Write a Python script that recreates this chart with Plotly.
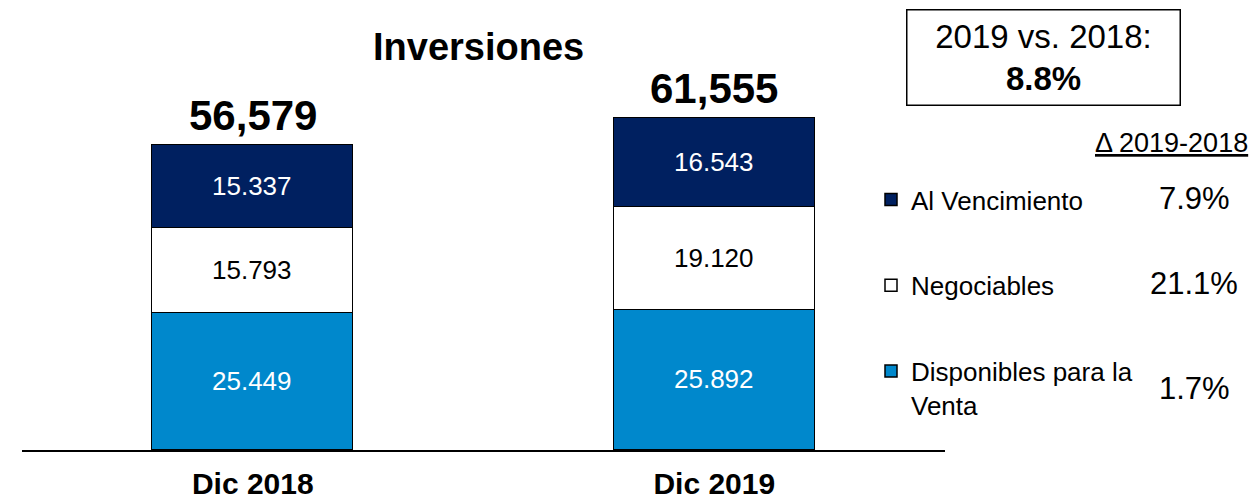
import plotly.graph_objects as go

categories = ["Dic 2018", "Dic 2019"]
disponibles = [25.449, 25.892]
negociables = [15.793, 19.120]
vencimiento = [15.337, 16.543]
series_names = ["Disponibles para la<br>Venta", "Negociables", "Al Vencimiento"]
series_colors = ["#0088CC", "#FFFFFF", "#002060"]
text_colors = ["#FFFFFF", "#000000", "#FFFFFF"]
legend_ranks = [3, 2, 1]
deltas = ["1.7%", "21.1%", "7.9%"]
growth_label = "8.8%"

FONT = "Liberation Sans, Arial, sans-serif"
series_values = [disponibles, negociables, vencimiento]
totals = [sum(v) for v in zip(*series_values)]

L, R, T, B = 22, 945, 20, 450
PW, PH = R - L, B - T


def px(x):
    return (x - L) / PW


def py(y):
    return (B - y) / PH


fig = go.Figure()
for i, (name, vals, col, tcol) in enumerate(zip(series_names, series_values, series_colors, text_colors)):
    fig.add_trace(go.Bar(
        x=categories, y=vals, name=name,
        marker=dict(color=col, line=dict(color="#000000", width=1.5)),
        width=0.436,
        text=[f"{v:.3f}" for v in vals], textposition="inside",
        insidetextanchor="middle", textangle=0,
        textfont=dict(family=FONT, size=26, color=tcol),
        legendgroup=f"g{i}", legendrank=legend_ranks[i],
    ))

for c, t in zip(categories, totals):
    fig.add_annotation(x=c, y=t, text=f"<b>{round(t*1000):,}</b>", showarrow=False,
                       xanchor="center", yanchor="middle", yshift=30,
                       font=dict(family=FONT, size=42, color="#000000"))

fig.add_annotation(x=px(478), y=py(47), xref="paper", yref="paper", text="<b>Inversiones</b>",
                   xanchor="center", yanchor="middle",
                   showarrow=False, font=dict(family=FONT, size=38, color="#000000"))

fig.update_layout(
    width=1253, height=503,
    margin=dict(l=L, r=1253 - R, t=T, b=503 - B, autoexpand=False),
    paper_bgcolor="#FFFFFF", plot_bgcolor="#FFFFFF",
    barmode="stack", bargap=0,
    font=dict(family=FONT, color="#000000"),
    xaxis=dict(range=[-0.5, 1.5], showline=True, linecolor="#000000", linewidth=1.5,
               ticks="", tickfont=dict(family=FONT, size=30, color="#000000"),
               tickprefix="<b>", ticksuffix="</b>", ticklabelstandoff=6, fixedrange=True),
    yaxis=dict(range=[0, PH / 5.39], visible=False, showgrid=False, zeroline=False),
    legend=dict(x=px(871), xanchor="left", y=py(176), yanchor="top",
                traceorder="grouped", tracegroupgap=49, valign="top",
                font=dict(family=FONT, size=26, color="#000000"), bgcolor="rgba(0,0,0,0)"),
    showlegend=True,
)

# comparison box
fig.add_annotation(xref="paper", yref="paper", x=px(1043), y=py(58),
                   xanchor="center", yanchor="middle",
                   text=f"2019 vs. 2018:<br><b>{growth_label}</b>", showarrow=False,
                   font=dict(family=FONT, size=33, color="#000000"),
                   bordercolor="#000000", borderwidth=1.5, borderpad=0, width=272, height=94,
                   bgcolor="#FFFFFF")
fig.add_annotation(xref="paper", yref="paper", x=px(1250), y=py(143),
                   xanchor="right", yanchor="middle", text="<u>Δ 2019-2018</u>", showarrow=False,
                   font=dict(family=FONT, size=27, color="#000000"))
for d, ypix in zip(deltas, [388, 283, 198]):
    fig.add_annotation(xref="paper", yref="paper", x=px(1194), y=py(ypix),
                       xanchor="center", yanchor="middle", text=d, showarrow=False,
                       font=dict(family=FONT, size=31, color="#000000"))

fig.write_html("out.html", config={"displayModeBar": False},
               post_script="document.body.style.margin='0';document.body.style.padding='0';")
